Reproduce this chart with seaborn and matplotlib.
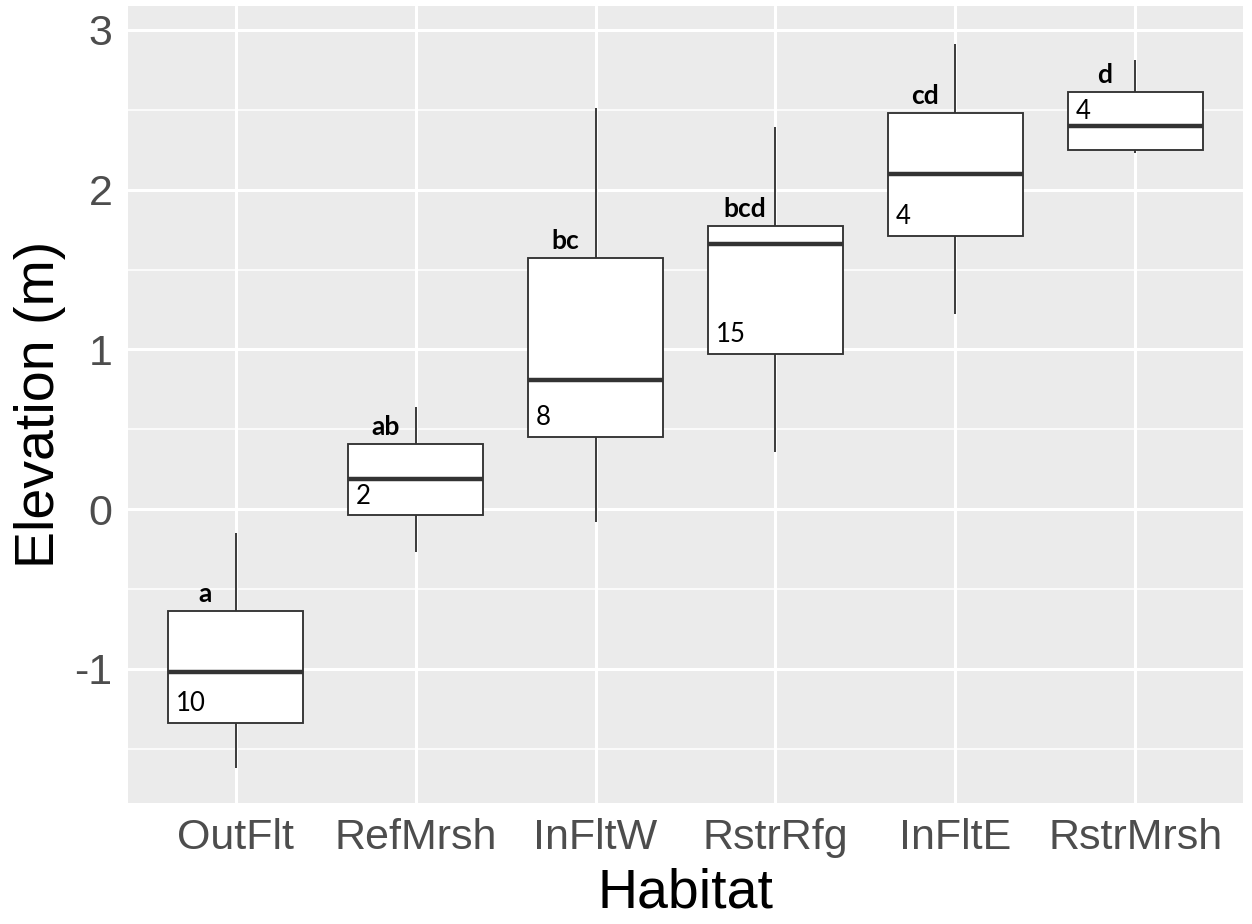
import numpy as np
import pandas as pd
import matplotlib
matplotlib.use("Agg")
import matplotlib.pyplot as plt
import seaborn as sns

# ---- data (five-number summaries) ----
habitats = ["OutFlt", "RefMrsh", "InFltW", "RstrRfg", "InFltE", "RstrMrsh"]
elev_min = [-1.62, -0.27, -0.08, 0.36, 1.22, 2.23]
elev_q1 = [-1.34, -0.04, 0.45, 0.97, 1.71, 2.25]
elev_med = [-1.02, 0.19, 0.81, 1.66, 2.10, 2.40]
elev_q3 = [-0.64, 0.41, 1.575, 1.775, 2.48, 2.61]
elev_max = [-0.15, 0.64, 2.51, 2.39, 2.91, 2.81]
group_letters = ["a", "ab", "bc", "bcd", "cd", "d"]
sample_n = ["10", "2", "8", "15", "4", "4"]

rows = []
for i, h in enumerate(habitats):
    for v in (elev_min[i], elev_q1[i], elev_med[i], elev_q3[i], elev_max[i]):
        rows.append({"Habitat": h, "Elevation": v})
df = pd.DataFrame(rows)

sns.set_theme(style="darkgrid")
plt.rcParams["axes.unicode_minus"] = False
plt.rcParams["font.family"] = ["Liberation Sans", "DejaVu Sans"]

fig = plt.figure(figsize=(12.52, 9.24), dpi=100)
ax = fig.add_axes([0.1022, 0.131, 0.8906, 0.8625])
ax.set_facecolor("#EBEBEB")
fig.patch.set_facecolor("white")

sns.boxplot(
    data=df, x="Habitat", y="Elevation", order=habitats, ax=ax,
    whis=np.inf, width=0.75, color="white", saturation=1,
    linecolor="#333333", linewidth=1.35, showcaps=False,
    medianprops=dict(linewidth=3.2, color="#333333"),
    boxprops=dict(facecolor="white", edgecolor="#333333"),
)

ax.set_xlim(-0.6, len(habitats) - 0.4)
ax.set_ylim(-1.84, 3.15)
ax.set_yticks([-1, 0, 1, 2, 3])
ax.set_yticks([-1.5, -0.5, 0.5, 1.5, 2.5], minor=True)
ax.grid(which="major", color="white", linewidth=2.2)
ax.grid(which="minor", axis="y", color="white", linewidth=1.1)
ax.set_axisbelow(True)
for s in ax.spines.values():
    s.set_visible(False)

ax.tick_params(axis="both", which="major", length=5, width=1.2, color="#333333",
               labelsize=31, labelcolor="#4D4D4D", pad=6)
ax.tick_params(axis="both", which="minor", length=0)
ax.set_xlabel("Habitat", fontsize=40, color="black", labelpad=7)
ax.set_ylabel("Elevation (m)", fontsize=40, color="black", labelpad=6)

ann_font = ["Lato", "DejaVu Sans"]
for i in range(len(habitats)):
    ax.annotate(group_letters[i], xy=(i - 0.17, elev_q3[i]), xytext=(0, 6.5),
                textcoords="offset points", ha="center", va="baseline",
                fontsize=19, fontweight="bold", family=ann_font, color="black")
    if elev_med[i] - elev_q1[i] < 0.2:
        y0, dy = elev_med[i], 5
    else:
        y0, dy = elev_q1[i], 8.5
    ax.annotate(sample_n[i], xy=(i - 0.375, y0), xytext=(5.5, dy),
                textcoords="offset points", ha="left", va="baseline",
                fontsize=18.5, family=ann_font, color="black")

fig.savefig("out.png", dpi=100)
